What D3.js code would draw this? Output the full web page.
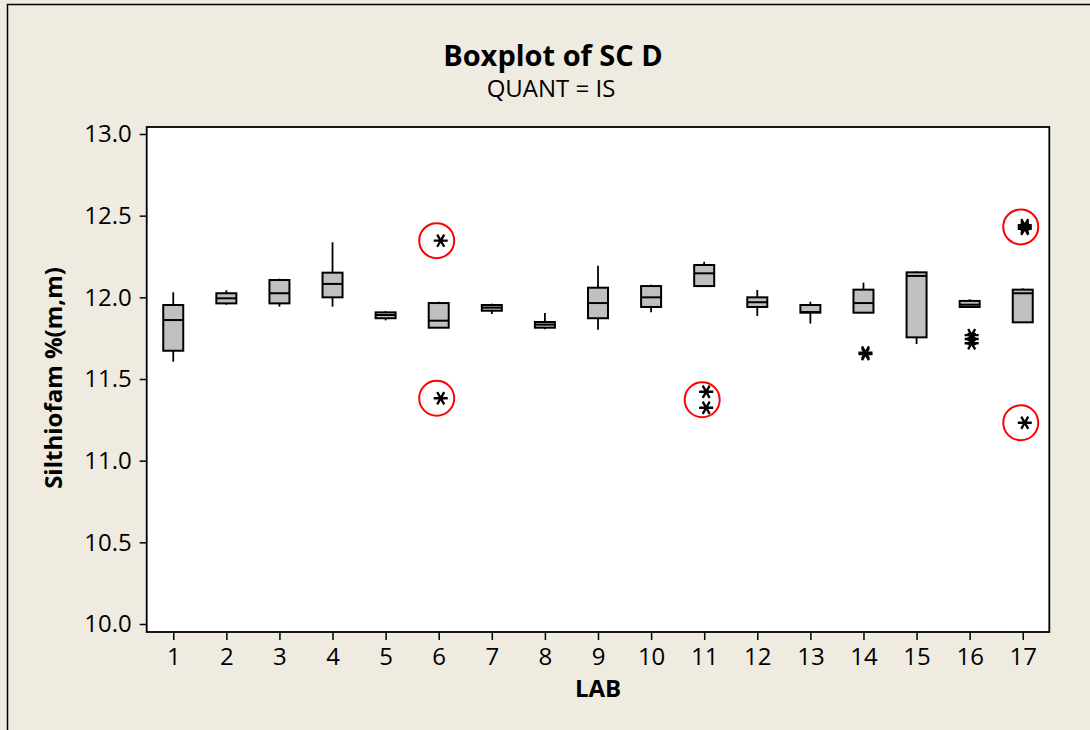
<!DOCTYPE html>
<html>
<head>
<meta charset="utf-8">
<script src="https://cdn.jsdelivr.net/npm/d3@7"></script>
<style>
    body { margin: 0; background: #EFEBE0; }
    .axis text { font-family: "Open Sans", sans-serif; font-size: 24px; fill: #000; }
    .axis line { stroke: #000; stroke-width: 1.5; }
    .title { font-family: "Open Sans", sans-serif; font-weight: 700; }
</style>
</head>
<body>
<script>
//chart values
var labs = ["1","2","3","4","5","6","7","8","9","10","11","12","13","14","15","16","17"];
var whiskerLow  = [11.606, 11.955, 11.943, 11.943, 11.859, 11.814, 11.898, 11.804, 11.802, 11.908, 12.069, 11.886, 11.839, 11.906, 11.714, 11.941, 11.847];
var q1          = [11.673, 11.963, 11.963, 12.000, 11.872, 11.814, 11.918, 11.814, 11.872, 11.941, 12.069, 11.941, 11.906, 11.906, 11.755, 11.941, 11.847];
var median      = [11.861, 11.994, 12.025, 12.082, 11.892, 11.857, 11.937, 11.833, 11.965, 12.000, 12.147, 11.970, 11.910, 11.965, 12.131, 11.955, 12.025];
var q3          = [11.953, 12.025, 12.106, 12.151, 11.908, 11.965, 11.953, 11.849, 12.059, 12.069, 12.198, 12.000, 11.953, 12.047, 12.153, 11.978, 12.047];
var whiskerHigh = [12.031, 12.043, 12.114, 12.337, 11.916, 11.973, 11.961, 11.904, 12.194, 12.077, 12.218, 12.045, 11.973, 12.090, 12.159, 11.988, 12.055];
var outliers    = [[], [], [], [], [], [12.347, 11.382], [], [], [], [], [11.422, 11.324], [], [], [11.662, 11.652], [], [11.769, 11.745, 11.719], [12.442, 12.430, 12.420, 11.232]];
var circledLab   = ["6", "6", "11", "17", "17"];      //red rings drawn round some outliers
var circledValue = [12.347, 11.382, 11.373, 12.431, 11.232];
var yTicks = [10.0, 10.5, 11.0, 11.5, 12.0, 12.5, 13.0];

window.onload = function(){

    var w = 1090, h = 730;
    var plot = {left: 146.7, right: 1049.3, top: 127, bottom: 632};

    var svg = d3.select("body")
        .append("svg")
        .attr("width", w)
        .attr("height", h);

    //beige page with a black border on top and left
    svg.append("rect")
        .attr("width", w)
        .attr("height", h)
        .style("fill", "#EFEBE0");

    svg.append("path")
        .attr("d", "M7.5,730V4.5H1090")
        .style("fill", "none")
        .style("stroke", "#000")
        .style("stroke-width", 1.5);

    var x = d3.scalePoint()
        .domain(labs)
        .range([plot.left, plot.right])
        .padding(0.5);

    var y = d3.scaleLinear()
        .domain([10, 13])
        .range([624, 134]);

    //white data region
    svg.append("rect")
        .attr("x", plot.left)
        .attr("y", plot.top)
        .attr("width", plot.right - plot.left)
        .attr("height", plot.bottom - plot.top)
        .style("fill", "#fff");

    var yAxis = svg.append("g")
        .attr("class", "axis")
        .attr("transform", "translate(" + plot.left + ",0)")
        .call(d3.axisLeft(y).tickValues(yTicks).tickFormat(d3.format(".1f")).tickSize(7).tickPadding(8));
    yAxis.select(".domain").remove();

    var xAxis = svg.append("g")
        .attr("class", "axis")
        .attr("transform", "translate(0," + plot.bottom + ")")
        .call(d3.axisBottom(x).tickSize(8).tickPadding(8));
    xAxis.select(".domain").remove();

    //frame round the data region
    svg.append("rect")
        .attr("x", plot.left)
        .attr("y", plot.top)
        .attr("width", plot.right - plot.left)
        .attr("height", plot.bottom - plot.top)
        .style("fill", "none")
        .style("stroke", "#000")
        .style("stroke-width", 1.8);

    var boxW = 20;

    var boxes = svg.selectAll(".box")
        .data(labs)
        .enter()
        .append("g")
        .attr("class", "box")
        .attr("transform", function(d){ return "translate(" + x(d) + ",0)"; });

    //whiskers
    boxes.append("line")
        .attr("y1", function(d, i){ return y(whiskerHigh[i]); })
        .attr("y2", function(d, i){ return y(q3[i]); })
        .style("stroke", "#000")
        .style("stroke-width", 1.8);

    boxes.append("line")
        .attr("y1", function(d, i){ return y(q1[i]); })
        .attr("y2", function(d, i){ return y(whiskerLow[i]); })
        .style("stroke", "#000")
        .style("stroke-width", 1.8);

    boxes.append("rect")
        .attr("x", -boxW / 2)
        .attr("y", function(d, i){ return y(q3[i]); })
        .attr("width", boxW)
        .attr("height", function(d, i){ return y(q1[i]) - y(q3[i]); })
        .style("fill", "#C0C0C0")
        .style("stroke", "#000")
        .style("stroke-width", 2);

    boxes.append("line")
        .attr("x1", -boxW / 2)
        .attr("x2", boxW / 2)
        .attr("y1", function(d, i){ return y(median[i]); })
        .attr("y2", function(d, i){ return y(median[i]); })
        .style("stroke", "#000")
        .style("stroke-width", 2);

    //outliers as six-armed asterisks
    var star = "M-7,0H7M-3.5,-6.1L3.5,6.1M3.5,-6.1L-3.5,6.1";

    boxes.selectAll(".outlier")
        .data(function(d, i){ return outliers[i]; })
        .enter()
        .append("path")
        .attr("class", "outlier")
        .attr("transform", function(v){ return "translate(2," + y(v) + ")"; })
        .attr("d", star)
        .style("fill", "none")
        .style("stroke", "#000")
        .style("stroke-width", 2.3);

    svg.selectAll(".ring")
        .data(circledLab)
        .enter()
        .append("circle")
        .attr("class", "ring")
        .attr("cx", function(d){ return x(d) - 2; })
        .attr("cy", function(d, i){ return y(circledValue[i]); })
        .attr("r", 17.5)
        .style("fill", "none")
        .style("stroke", "#F00")
        .style("stroke-width", 2);

    //titles
    svg.append("text")
        .attr("class", "title")
        .attr("text-anchor", "middle")
        .attr("x", 553)
        .attr("y", 66)
        .style("font-size", "29px")
        .text("Boxplot of SC D");

    svg.append("text")
        .attr("text-anchor", "middle")
        .attr("x", 551)
        .attr("y", 97)
        .style("font-family", "'Open Sans', sans-serif")
        .style("font-size", "24px")
        .text("QUANT = IS");

    svg.append("text")
        .attr("class", "title")
        .attr("text-anchor", "middle")
        .attr("transform", "translate(62,378) rotate(-90)")
        .style("font-size", "24px")
        .text("Silthiofam %(m,m)");

    svg.append("text")
        .attr("class", "title")
        .attr("text-anchor", "middle")
        .attr("x", 598)
        .attr("y", 697)
        .style("font-size", "24px")
        .text("LAB");
};
</script>
</body>
</html>
